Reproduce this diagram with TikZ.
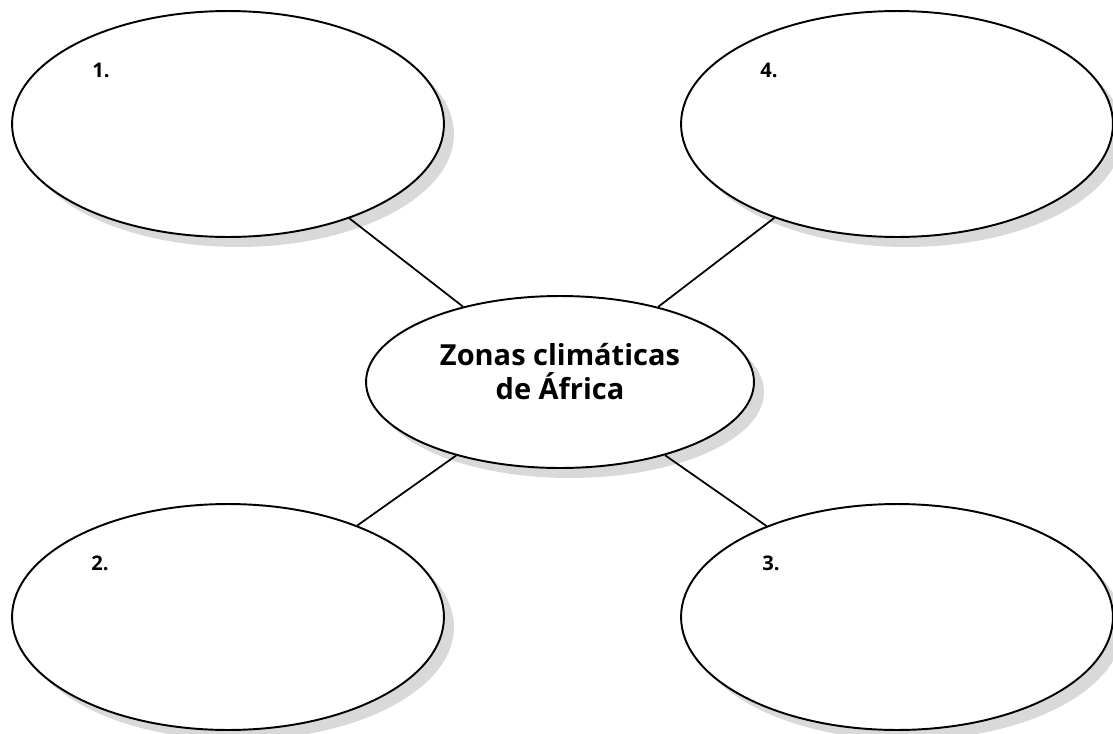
\documentclass[tikz,border=0pt]{standalone}
\usepackage{fontspec}
\setmainfont{Open Sans}
\usetikzlibrary{shapes.geometric, shadows}

\begin{document}
\begin{tikzpicture}[x=0.02cm, y=-0.02cm,
    zone/.style={ellipse, draw=black, line width=1.1pt, fill=white, minimum width=8.64cm, minimum height=4.52cm, inner sep=0pt, drop shadow={shadow xshift=0.2cm, shadow yshift=-0.2cm, fill=black!15, opacity=1}},
    topic/.style={zone, minimum width=7.76cm, minimum height=3.44cm, align=center, text depth=12pt, font=\bfseries\fontsize{16.5}{19}\selectfont},
    num/.style={anchor=west, inner sep=0pt, font=\bfseries\fontsize{11.5}{13}\selectfont},
    link/.style={line width=1pt}
]
\useasboundingbox (0,0) rectangle (1113,734);

\node[topic] (africa) at (560,382) {Zonas climáticas\\de África};
\node[zone] (zone1) at (228,124) {};
\node[zone] (zone4) at (897,124) {};
\node[zone] (zone2) at (228,617) {};
\node[zone] (zone3) at (897,617) {};

\node[num] (num1) at (92,70) {1.};
\node[num] (num4) at (760,70) {4.};
\node[num] (num2) at (91,563) {2.};
\node[num] (num3) at (762,563) {3.};

\draw[link] (zone1) -- (africa);
\draw[link] (zone4) -- (africa);
\draw[link] (zone2) -- (africa);
\draw[link] (zone3) -- (africa);
\end{tikzpicture}
\end{document}
